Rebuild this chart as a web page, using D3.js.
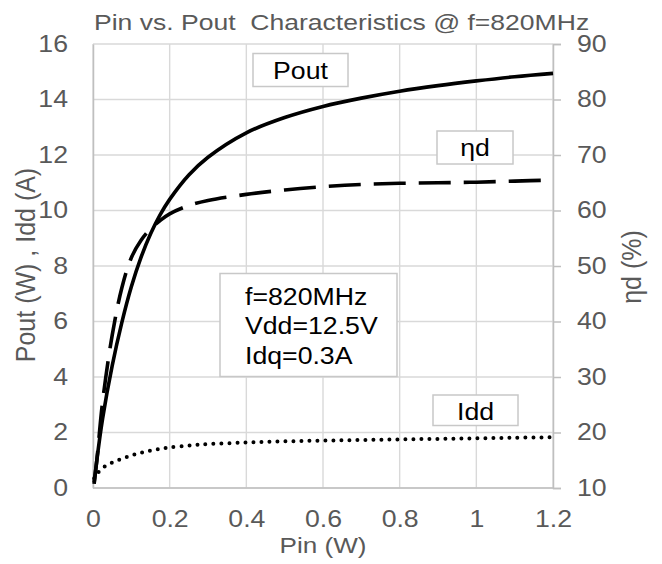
<!DOCTYPE html>
<html>
<head>
<meta charset="utf-8">
<script src="https://cdn.jsdelivr.net/npm/d3@7"></script>
<style>
  html, body { margin: 0; padding: 0; background: #fff; }
  svg { display: block; }
  text { font-family: "Liberation Sans", Arial, sans-serif; white-space: pre; }
</style>
</head>
<body>
<div id="chart"></div>
<script>
// ---- data ----
const pin  = [0.003, 0.01, 0.025, 0.05, 0.075, 0.1, 0.125, 0.15, 0.175, 0.2, 0.25, 0.3, 0.4, 0.5, 0.6, 0.7, 0.8, 0.9, 1.0, 1.1, 1.2];
const pout = [0.15, 1.0, 2.5, 4.4, 5.95, 7.25, 8.3, 9.15, 9.84, 10.4, 11.28, 11.92, 12.8, 13.35, 13.75, 14.05, 14.3, 14.5, 14.67, 14.82, 14.94];
const eta  = [11, 15, 25.5, 37.5, 46, 51.5, 54.6, 56.7, 58.2, 59.4, 60.9, 61.8, 62.9, 63.7, 64.3, 64.7, 64.9, 65.0, 65.1, 65.3, 65.5];
const idd  = [0.35, 0.5, 0.72, 0.92, 1.05, 1.17, 1.27, 1.35, 1.41, 1.46, 1.53, 1.58, 1.64, 1.68, 1.71, 1.73, 1.75, 1.77, 1.79, 1.81, 1.83];

const xTicks = [0, 0.2, 0.4, 0.6, 0.8, 1.0, 1.2];
const xTickLabels = ["0", "0.2", "0.4", "0.6", "0.8", "1", "1.2"];
const leftTicks = [0, 2, 4, 6, 8, 10, 12, 14, 16];
const leftTickLabels = ["0", "2", "4", "6", "8", "10", "12", "14", "16"];
const rightTicks = [10, 20, 30, 40, 50, 60, 70, 80, 90];
const rightTickLabels = ["10", "20", "30", "40", "50", "60", "70", "80", "90"];

const titleText = "Pin vs. Pout  Characteristics @ f=820MHz";
const xTitle = "Pin (W)";
const yLeftTitle = "Pout (W) , Idd (A)";
const yRightTitle = "ηd (%)";
const infoLines = ["f=820MHz", "Vdd=12.5V", "Idq=0.3A"];

// ---- layout ----
const W = 662, H = 564;
const L = 93, R = 553, T = 44, B = 488;
const SX = 1.16;          // horizontal stretch of the reference text
const FS = 23;
const GREY = "#595959";

const svg = d3.select("#chart").append("svg").attr("width", W).attr("height", H);

const x = d3.scaleLinear().domain([0, 1.2]).range([L, R]);
const yL = d3.scaleLinear().domain([0, 16]).range([B, T]);
const yR = d3.scaleLinear().domain([10, 90]).range([B, T]);

function stretch(sel, sx) {
  sel.each(function () {
    const t = d3.select(this);
    const tx = +t.attr("x") || 0, ty = +t.attr("y") || 0;
    t.attr("x", 0).attr("y", 0).attr("transform", `translate(${tx},${ty}) scale(${sx},1)`);
  });
}

// ---- gridlines ----
const grid = svg.append("g");
grid.selectAll("line.h").data(leftTicks).join("line")
  .attr("x1", L).attr("x2", R).attr("y1", d => yL(d)).attr("y2", d => yL(d))
  .attr("stroke", "#d9d9d9").attr("stroke-width", 1.4);
grid.selectAll("line.v").data(xTicks).join("line")
  .attr("x1", d => x(d)).attr("x2", d => x(d)).attr("y1", T).attr("y2", B)
  .attr("stroke", "#d9d9d9").attr("stroke-width", 1.4);

// ---- axes ----
const axL = svg.append("g").attr("transform", `translate(${L},0)`)
  .call(d3.axisLeft(yL).tickValues(leftTicks).tickSize(0).tickPadding(25)
    .tickFormat((d, i) => leftTickLabels[i]));
const axR = svg.append("g").attr("transform", `translate(${R},0)`)
  .call(d3.axisRight(yR).tickValues(rightTicks).tickSize(8).tickPadding(16)
    .tickFormat((d, i) => rightTickLabels[i]));
const axB = svg.append("g").attr("transform", `translate(0,${B})`)
  .call(d3.axisBottom(x).tickValues(xTicks).tickSize(0).tickPadding(23)
    .tickFormat((d, i) => xTickLabels[i]));

[axL, axR, axB].forEach(a => {
  a.attr("font-family", null).attr("font-size", null);
  a.select(".domain").attr("stroke", "#bfbfbf").attr("stroke-width", 1.5);
  a.selectAll(".tick line").attr("stroke", "#bfbfbf").attr("stroke-width", 1.5);
  a.selectAll(".tick text").attr("fill", GREY).style("font-size", FS + "px")
    .style("font-family", '"Liberation Sans", Arial, sans-serif');
  stretch(a.selectAll(".tick text"), SX);
});
axB.select(".domain").attr("d", `M${L},0H${R}`);

// ---- series ----
const line = yScale => d3.line()
  .x((d, i) => x(pin[i]))
  .y(d => yScale(d))
  .curve(d3.curveCatmullRom.alpha(0.5));

svg.append("path").datum(idd).attr("d", line(yL))
  .attr("fill", "none").attr("stroke", "#000").attr("stroke-width", 4)
  .attr("stroke-linecap", "round").attr("stroke-dasharray", "0 8");
svg.append("path").datum(eta).attr("d", line(yR))
  .attr("fill", "none").attr("stroke", "#000").attr("stroke-width", 3.6)
  .attr("stroke-dasharray", "32 13");
svg.append("path").datum(pout).attr("d", line(yL))
  .attr("fill", "none").attr("stroke", "#000").attr("stroke-width", 3.6)
  .attr("stroke-linejoin", "round");

// ---- labels / boxes ----
function box(x0, y0, w, h) {
  svg.append("rect").attr("x", x0).attr("y", y0).attr("width", w).attr("height", h)
    .attr("fill", "#fff").attr("stroke", "#c8c8c8").attr("stroke-width", 1.5);
}
function label(txt, tx, ty, anchor, fill, fs, sx) {
  const t = svg.append("text").attr("x", tx).attr("y", ty).attr("text-anchor", anchor)
    .attr("fill", fill).style("font-size", fs + "px").text(txt);
  stretch(t, sx || SX);
  return t;
}

box(253, 53.5, 95, 33);
label("Pout", 300.5, 78.5, "middle", "#000", FS);
box(437, 131, 76, 33);
label("ηd", 475, 156, "middle", "#000", FS);
box(433, 395, 85, 30.5);
label("Idd", 475.5, 419.5, "middle", "#000", FS);

box(220, 273.5, 177, 103);
infoLines.forEach((s, i) => label(s, 245, 304.5 + i * 29.5, "start", "#000", FS));

// title
label(titleText, 94, 29.5, "start", GREY, 22.5, 1.18);
// x axis title
label(xTitle, 323, 553, "middle", GREY, 22.5);

// rotated titles
svg.append("text").attr("text-anchor", "middle").attr("dy", "0.35em")
  .attr("transform", `translate(25,265) scale(1.12,1) rotate(-90)`)
  .attr("fill", GREY).style("font-size", "25px").text(yLeftTitle);
svg.append("text").attr("text-anchor", "middle").attr("dy", "0.35em")
  .attr("transform", `translate(631,267) scale(1.12,1) rotate(-90)`)
  .attr("fill", GREY).style("font-size", "25px").text(yRightTitle);
</script>
</body>
</html>
